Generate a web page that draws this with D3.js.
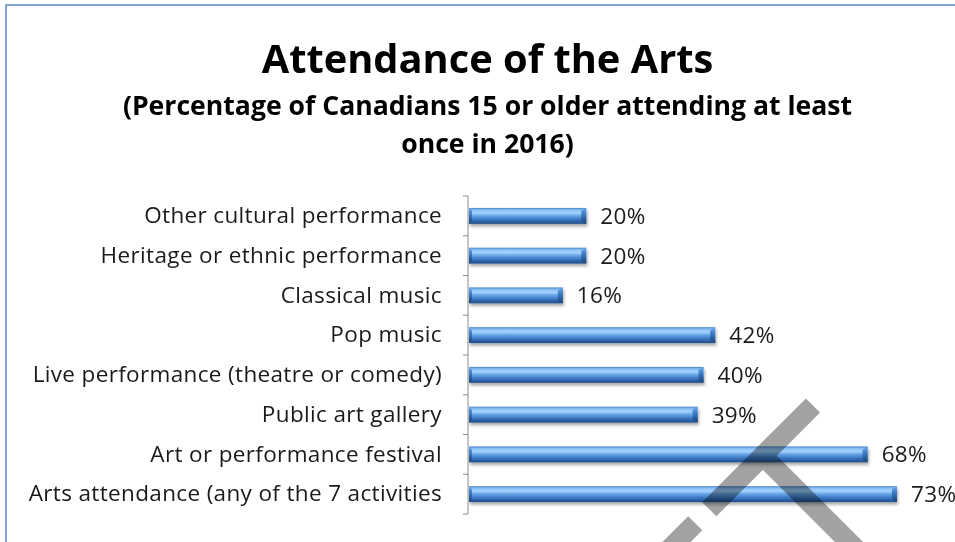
<!DOCTYPE html>
<html>
<head>
<meta charset="utf-8">
<script src="https://cdn.jsdelivr.net/npm/d3@7"></script>
<style>
  html, body { margin: 0; padding: 0; background: #fff; }
  svg { display: block; }
  text { font-family: "Open Sans", Lato, sans-serif; font-variant-ligatures: none; }
</style>
</head>
<body>
<svg id="chart" width="955" height="542"></svg>
<script>
// Activities, listed top to bottom
const categories = [
  "Other cultural performance",
  "Heritage or ethnic performance",
  "Classical music",
  "Pop music",
  "Live performance (theatre or comedy)",
  "Public art gallery",
  "Art or performance festival",
  "Arts attendance (any of the 7 activities"
];
// Percentage attending at least once
const values = [20, 20, 16, 42, 40, 39, 68, 73];
const titleText = "Attendance of the Arts";
const subtitleLines = [
  "(Percentage of Canadians  15 or older attending at least",
  "once in 2016)"
];

// Overlay stroke (a large grey mark running across the lower right)
const overlayShapes = [
  [[805.9, 398.4], [820.1, 412.6], [716.3, 516.3], [702.2, 502.2]],
  [[688.2, 516.2], [702.3, 530.3], [566.3, 666.3], [552.2, 652.2]],
  [[755.7, 462.8], [769.8, 448.7], [910.5, 589.5], [896.5, 603.5]]
];

const svg = d3.select("#chart");

// Defs: bar gradients and soft shadow
const defs = svg.append("defs");
const g1 = defs.append("linearGradient").attr("id", "barGrad")
  .attr("x1", 0).attr("y1", 0).attr("x2", 0).attr("y2", 1);
[[0, "#4582c9"], [0.12, "#86bdf2"], [0.3, "#a6d4ff"], [0.5, "#64a3e6"],
 [0.75, "#3874c0"], [1, "#1f4b85"]].forEach(([o, c]) =>
  g1.append("stop").attr("offset", o).attr("stop-color", c));
const g2 = defs.append("linearGradient").attr("id", "capGrad")
  .attr("x1", 0).attr("y1", 0).attr("x2", 0).attr("y2", 1);
[[0, "#6aa6e6"], [0.45, "#3a78c4"], [1, "#17406f"]].forEach(([o, c]) =>
  g2.append("stop").attr("offset", o).attr("stop-color", c));
const shadow = defs.append("filter").attr("id", "barShadow")
  .attr("x", "-5%").attr("y", "-30%").attr("width", "110%").attr("height", "180%");
shadow.append("feDropShadow").attr("dx", 1).attr("dy", 2.5)
  .attr("stdDeviation", 1.4).attr("flood-color", "#000").attr("flood-opacity", 0.35);

// Chart frame
svg.append("rect")
  .attr("x", 6).attr("y", 5).attr("width", 980).attr("height", 560)
  .attr("fill", "#fff").attr("stroke", "#5b87c9").attr("stroke-width", 1.5);

// Titles
svg.append("text")
  .attr("x", 487.5).attr("y", 73).attr("text-anchor", "middle")
  .attr("font-weight", 700).attr("font-size", 39.8).attr("fill", "#000")
  .text(titleText);
svg.append("g").selectAll("text").data(subtitleLines).join("text")
  .attr("x", 487.5).attr("y", (d, i) => 115 + i * 38).attr("text-anchor", "middle")
  .attr("font-weight", 700).attr("font-size", 26.6).attr("fill", "#000")
  .text(d => d);

// Scales
const x = d3.scaleLinear().domain([0, 80]).range([469, 938]);
const y = d3.scaleBand().domain(categories).range([196, 514])
  .paddingInner(0.6).paddingOuter(0.3);

// Category axis: labels through d3.axisLeft, line and boundary ticks drawn separately
const axisG = svg.append("g").attr("transform", `translate(${x(0) - 1},0)`);
axisG.call(d3.axisLeft(y).tickSize(0).tickPadding(26))
  .call(g => g.select(".domain").remove())
  .call(g => g.selectAll("text")
    .attr("font-family", "'Open Sans', Lato, sans-serif")
    .attr("font-size", 22.5).attr("letter-spacing", 0.35).attr("fill", "#1a1a1a"));

const [y0, y1] = y.range();
axisG.append("line").attr("x1", 0).attr("x2", 0).attr("y1", y0).attr("y2", y1)
  .attr("stroke", "#8c8c8c").attr("stroke-width", 1);
const bounds = d3.range(categories.length + 1).map(i => y0 + i * y.step());
axisG.selectAll(".btick").data(bounds).join("line").attr("class", "btick")
  .attr("x1", -5).attr("x2", 0).attr("y1", d => d).attr("y2", d => d)
  .attr("stroke", "#8c8c8c").attr("stroke-width", 1);

// Bars with bevelled ends
const rows = categories.map((c, i) => ({ c, v: values[i] }));
const bar = svg.append("g").selectAll("g").data(rows).join("g")
  .attr("filter", "url(#barShadow)");
bar.append("rect")
  .attr("x", x(0)).attr("y", d => y(d.c))
  .attr("width", d => x(d.v) - x(0)).attr("height", y.bandwidth())
  .attr("fill", "url(#barGrad)");
const bev = 5;
bar.append("path")
  .attr("d", d => {
    const xe = x(d.v), t = y(d.c), b = t + y.bandwidth();
    return `M${xe - bev},${t + 3}L${xe},${t}L${xe},${b}L${xe - bev},${b - 3}Z`;
  })
  .attr("fill", "url(#capGrad)");
bar.append("path")
  .attr("d", d => {
    const xs = x(0), t = y(d.c), b = t + y.bandwidth();
    return `M${xs},${t}L${xs + 3},${t + 3}L${xs + 3},${b - 3}L${xs},${b}Z`;
  })
  .attr("fill", "url(#capGrad)");

// Value labels
svg.append("g").selectAll("text").data(rows).join("text")
  .attr("x", d => x(d.v) + 14)
  .attr("y", d => y(d.c) + y.bandwidth() / 2)
  .attr("dy", "0.36em")
  .attr("font-size", 22.5).attr("letter-spacing", 0.35).attr("fill", "#1a1a1a")
  .text(d => d.v + "%");

// Grey overlay mark
svg.append("path")
  .attr("d", overlayShapes.map(p => "M" + p.map(q => q.join(",")).join("L") + "Z").join(""))
  .attr("fill", "#a2a2a2")
  .style("mix-blend-mode", "multiply");
</script>
</body>
</html>
